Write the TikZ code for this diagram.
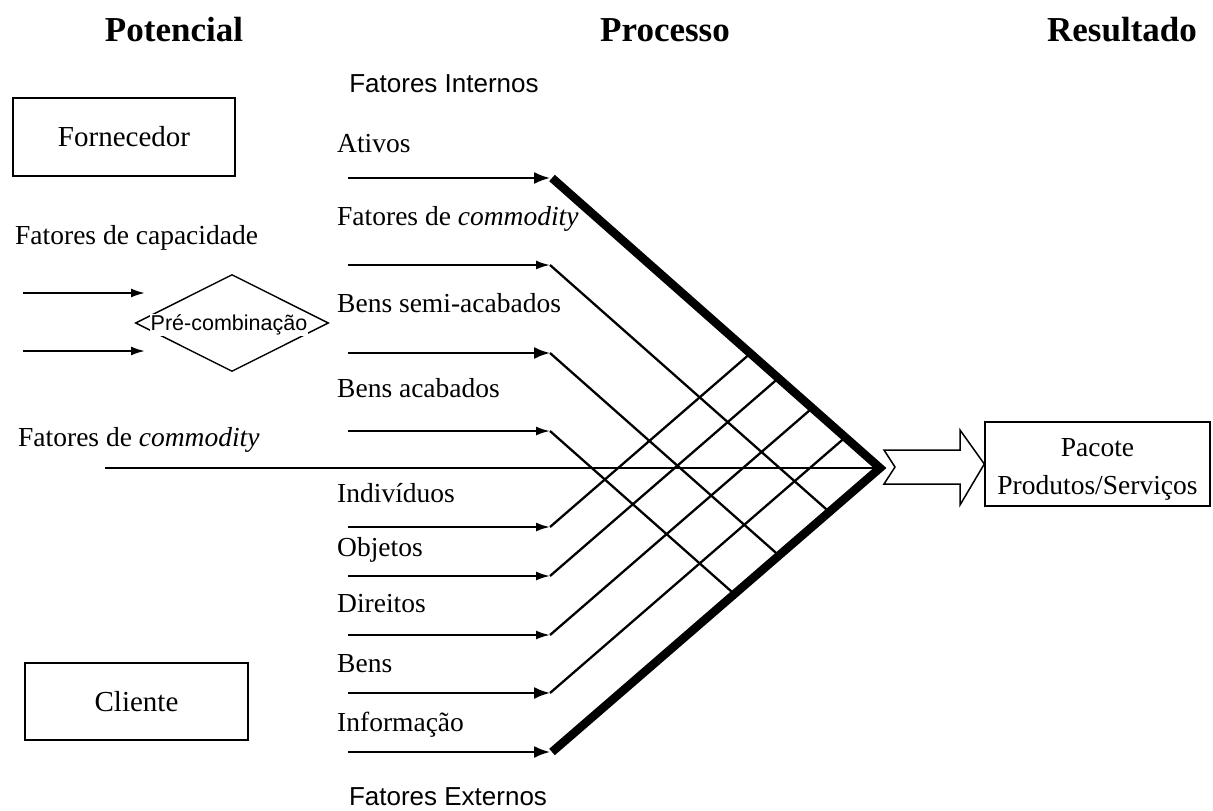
\documentclass[tikz,border=0pt]{standalone}
\usepackage{fontspec}
\setmainfont{Liberation Serif}
\newfontfamily\sansf{Liberation Sans}
\usetikzlibrary{arrows.meta,shapes.geometric,calc}
\begin{document}
\begin{tikzpicture}[x=1pt,y=-1pt,
 title/.style={font=\fontsize{35}{40}\selectfont\bfseries, inner sep=0pt},
 lbl/.style={font=\fontsize{27.5}{32}\selectfont, anchor=mid west, inner sep=0pt},
 slbl/.style={font=\sansf\fontsize{26}{30}\selectfont, inner sep=0pt},
 box/.style={draw, line width=1.4pt, font=\fontsize{29}{32}\selectfont, align=center, inner sep=0pt},
 bigarr/.style={line width=2pt, -{Latex[length=16pt,width=12pt]}},
 smallarr/.style={line width=2pt, -{Latex[length=14pt,width=9pt]}},
 heavy/.style={line width=8.5pt, line join=miter},
 thinline/.style={line width=2.3pt}]
\fill[white] (0,0) rectangle (1213,811);
\useasboundingbox (0,0) rectangle (1213,811);

% titles
\node[title] (pot) at (174,30) {Potencial};
\node[title] (proc) at (665,30) {Processo};
\node[title] (resu) at (1122,30) {Resultado};
\node[slbl] (fi) at (444,84) {Fatores Internos};
\node[slbl] (fe) at (448,797) {Fatores Externos};

% boxes
\node[box, minimum width=222pt, minimum height=78pt] (forn) at (124,137) {Fornecedor};
\node[box, minimum width=223pt, minimum height=77pt] (cli) at (136.5,701.5) {Cliente};
\node[box, minimum width=225pt, minimum height=84pt, font=\fontsize{27.5}{38}\selectfont] (pac) at (1097.5,464) {\rule{0pt}{28pt}Pacote\\Produtos/Serviços};

% left side
\node[lbl] (fcap) at (15,242) {Fatores de capacidade};
\node[lbl] (fcom) at (18,444) {Fatores de \textit{commodity}};
\node[diamond, draw, line width=1.4pt, minimum width=193pt, minimum height=97pt, aspect=2, inner sep=0pt] (pre) at (232,323) {};
\node[fill=white, inner sep=1pt, font=\sansf\fontsize{21.5}{24}\selectfont] (pretxt) at (229,325) {Pré-combinação};
\coordinate (sas) at (23,293); \coordinate (sae) at (145,293);
\coordinate (sbs) at (23,351); \coordinate (sbe) at (145,351);
\draw[smallarr] (sas) -- (sae);
\draw[smallarr] (sbs) -- (sbe);

% labels in process column
\node[lbl] (l1) at (337,150) {Ativos};
\node[lbl] (l2) at (337,223) {Fatores de \textit{commodity}};
\node[lbl] (l3) at (337,310) {Bens semi-acabados};
\node[lbl] (l4) at (337,395) {Bens acabados};
\node[lbl] (l5) at (337,500) {Indivíduos};
\node[lbl] (l6) at (337,554) {Objetos};
\node[lbl] (l7) at (337,610) {Direitos};
\node[lbl] (l8) at (337,670) {Bens};
\node[lbl] (l9) at (337,729) {Informação};

% key points
\coordinate (T) at (552,178);
\coordinate (A) at (880,468);
\coordinate (B) at (552,752);

% arrows
\foreach \n/\y in {1/178,2/265,3/353,4/431,5/527,6/576,7/635,8/693,9/752}{
  \coordinate (as\n) at (348,\y);
  \coordinate (ae\n) at (550,\y);
}
\draw[bigarr] (as1) -- (ae1);
\draw[smallarr] (as2) -- (ae2);
\draw[bigarr] (as3) -- (ae3);
\draw[smallarr] (as4) -- (ae4);
\draw[smallarr] (as5) -- (ae5);
\draw[smallarr] (as6) -- (ae6);
\draw[smallarr] (as7) -- (ae7);
\draw[bigarr] (as8) -- (ae8);
\draw[bigarr] (as9) -- (ae9);

% diagonal thin lines (ends on the heavy V)
\coordinate (xx2) at (829.3,511.9);
\coordinate (xx3) at (779.0,555.5);
\coordinate (xx4) at (734.4,594.1);
\coordinate (xx5) at (750.4,353.4);
\coordinate (xx6) at (778.4,378.2);
\coordinate (xx7) at (812.2,408.1);
\coordinate (xx8) at (845.3,437.3);
\foreach \n in {2,3,4,5,6,7,8}{
  \draw[thinline] (ae\n) -- (xx\n);
}

% long horizontal line
\coordinate (hs) at (105,468);
\draw[line width=1.8pt] (hs) -- (A);

% heavy V
\draw[heavy] (T) -- (A) -- (B);

% hollow notched arrow to result box
\draw[line width=1.5pt, fill=white, line join=miter]
  (884,450) -- (960,450) -- (960,430) -- (pac.west) -- (960,505) -- (960,484) -- (884,484) -- (895,467) -- cycle;
\end{tikzpicture}
\end{document}
